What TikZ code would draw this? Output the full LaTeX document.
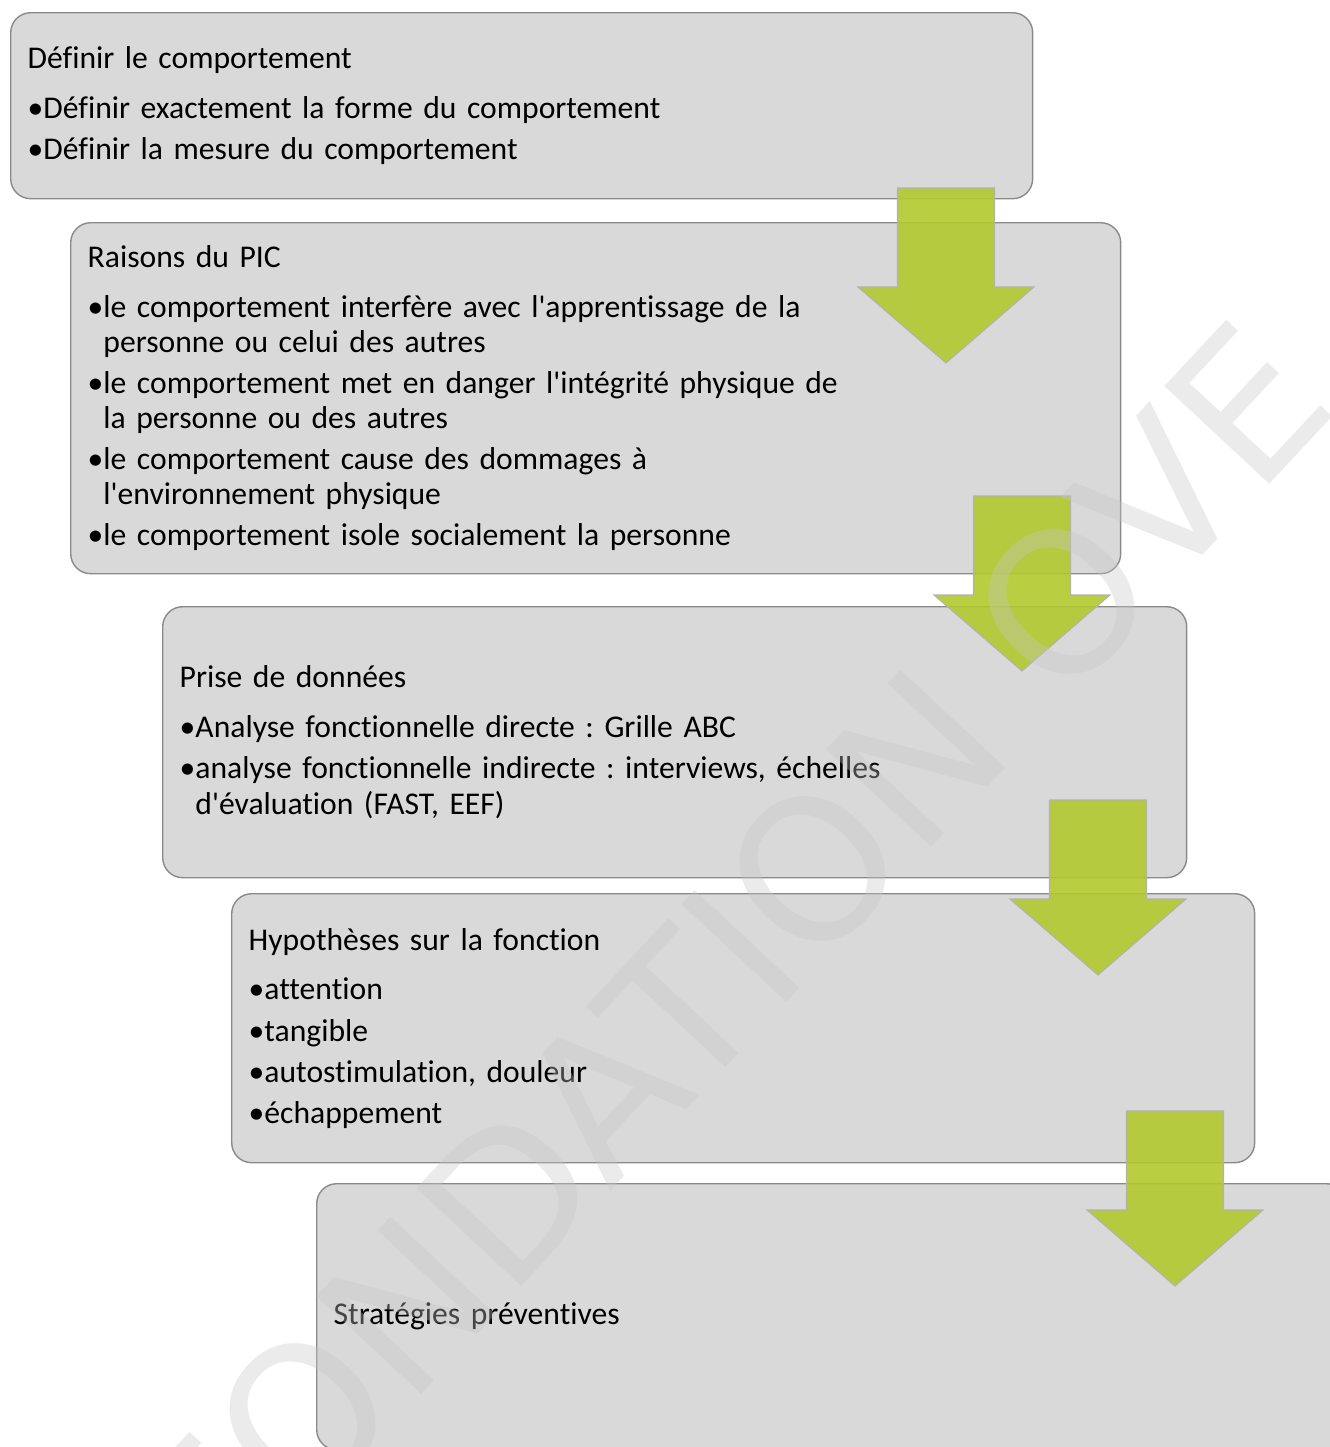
\documentclass[tikz,border=0pt]{standalone}
\usepackage{fontspec}
\setmainfont{Carlito}[Ligatures={TeXOff,NoCommon}]
\newfontfamily\filigrane{DejaVu Sans}
\usepackage{xcolor}
\frenchspacing

\definecolor{fondgris}{HTML}{D9D9D9}
\definecolor{bordgris}{HTML}{8A8A8A}
\definecolor{vertfleche}{HTML}{B2C92E}

\tikzset{
  etape/.style={draw=bordgris, fill=fondgris, rounded corners=2mm, anchor=north west,
    align=left, inner xsep=1.7mm, inner ysep=0pt, line width=.4pt,
    font=\fontsize{9}{10}\selectfont},
  fleche/.pic={
    \filldraw[draw=gray!60, fill=vertfleche, fill opacity=.9, line width=.3pt]
      (-48.5,0) -- (48.5,0) -- (48.5,99) -- (88,99) -- (0,175) -- (-88,99) -- (-48.5,99) -- cycle;
  }
}

\begin{document}
\begin{tikzpicture}[x=0.1mm, y=-0.1mm]
\useasboundingbox (0,0) rectangle (1330,1447);

\node[etape, text width=98.8mm, minimum height=18.6mm] (definir) at (10,12)
  {Définir le comportement\\[4.2pt]
   •Définir exactement la forme du comportement\\[1.7pt]
   •Définir la mesure du comportement};

\node[etape, text width=101.6mm, minimum height=35.1mm] (raisons) at (70,222)
  {Raisons du PIC\\[4.2pt]
   •le comportement interfère avec l'apprentissage de la\\
   \hphantom{•}personne ou celui des autres\\[1.7pt]
   •le comportement met en danger l'intégrité physique de\\
   \hphantom{•}la personne ou des autres\\[1.7pt]
   •le comportement cause des dommages à\\
   \hphantom{•}l'environnement physique\\[1.7pt]
   •le comportement isole socialement la personne};

\node[etape, text width=99mm, minimum height=27.1mm] (donnees) at (162,606)
  {Prise de données\\[4.2pt]
   •Analyse fonctionnelle directe : Grille ABC\\[1.7pt]
   •analyse fonctionnelle indirecte : interviews, échelles\\
   \hphantom{•}d'évaluation (FAST, EEF)};

\node[etape, text width=98.9mm, minimum height=26.9mm] (hypotheses) at (231,893)
  {Hypothèses sur la fonction\\[4.2pt]
   •attention\\[1.7pt]
   •tangible\\[1.7pt]
   •autostimulation, douleur\\[1.7pt]
   •échappement};

\node[etape, text width=99.6mm, minimum height=26.6mm] (strategies) at (316,1183)
  {Stratégies préventives};

% fleches vertes entre les etapes
\foreach \fx/\fy [count=\i] in {946/188, 1022/496, 1098/800, 1175/1111}
  \pic (fl\i) at (\fx,\fy) {fleche};

% filigrane
\node[text=black!22, text opacity=.35, rotate=47, font=\filigrane\fontsize{56}{56}\selectfont]
  (marque) at (731,957) {FONDATION OVE};
\end{tikzpicture}
\end{document}
